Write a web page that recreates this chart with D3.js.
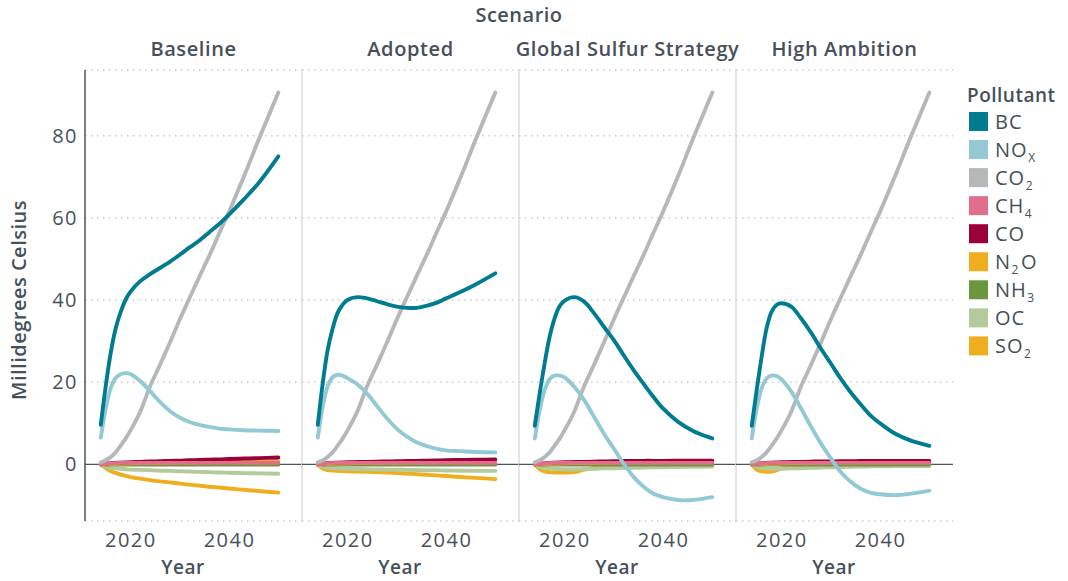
<!DOCTYPE html>
<html>
<head>
<meta charset="utf-8">
<script src="https://cdn.jsdelivr.net/npm/d3@7"></script>
<style>
  html, body { margin: 0; padding: 0; background: #ffffff; }
  svg { display: block; }
  text { font-family: "Open Sans", "Noto Sans", sans-serif; fill: #46505a; }
</style>
</head>
<body>
<svg id="chart" width="1068" height="581"></svg>
<script>
// ---------------- DATA ----------------
const years = [2014, 2015, 2016, 2017, 2018, 2019, 2020, 2022, 2024, 2026, 2028, 2030, 2032, 2034, 2036, 2038, 2040, 2043, 2046, 2050];
const scenarios = ["Baseline", "Adopted", "Global Sulfur Strategy", "High Ambition"];
const pollutants = ["BC", "NOx", "CO2", "CH4", "CO", "N2O", "NH3", "OC", "SO2"];
const pollutantLabels = ["BC", "NO_X", "CO_2", "CH_4", "CO", "N_2O", "NH_3", "OC", "SO_2"];
const pollutantColors = ["#007c91", "#93c9d4", "#b5b8bb", "#e0708a", "#9b0039", "#f0ae1e", "#6a963d", "#b3ca9c", "#f0ae1e"];
const yTicks = [0, 20, 40, 60, 80];
const xTicks = [2020, 2040];

// CO2 is identical in all scenarios
const CO2_all = [0.5, 1.0, 1.8, 2.9, 4.5, 6.2, 8.2, 12.8, 19.0, 24.2, 29.6, 35.2, 40.5, 45.7, 50.8, 56.2, 61.5, 70.0, 79.0, 90.5];
const N2O_all = [0, 0.05, 0.1, 0.15, 0.2, 0.2, 0.25, 0.3, 0.3, 0.35, 0.4, 0.4, 0.45, 0.5, 0.5, 0.55, 0.6, 0.65, 0.7, 0.75];
const NH3_all = [0, -0.03, -0.05, -0.05, -0.05, -0.05, -0.05, -0.05, -0.05, -0.05, -0.05, -0.05, -0.05, -0.05, -0.05, -0.05, -0.05, -0.05, -0.05, -0.05];
const CH4_all = [0, 0.15, 0.25, 0.3, 0.35, 0.35, 0.35, 0.35, 0.35, 0.35, 0.35, 0.35, 0.35, 0.35, 0.35, 0.35, 0.35, 0.35, 0.35, 0.35];

// Baseline
const BC_baseline  = [9.6, 19, 27, 33, 37, 40, 42, 44.6, 46.3, 47.8, 49.3, 51, 52.8, 54.5, 56.5, 58.5, 60.8, 64.5, 68.5, 75];
const NOx_baseline = [6.5, 13.5, 18.5, 21, 21.9, 22.2, 22, 20.3, 17.8, 15.2, 13, 11.4, 10.3, 9.6, 9.1, 8.7, 8.5, 8.3, 8.2, 8.1];
const CO_baseline  = [0, 0.2, 0.3, 0.35, 0.4, 0.45, 0.5, 0.6, 0.7, 0.75, 0.85, 0.9, 1.0, 1.05, 1.15, 1.2, 1.3, 1.4, 1.5, 1.65];
const OC_baseline  = [0, -0.6, -0.9, -1.0, -1.1, -1.2, -1.3, -1.35, -1.45, -1.55, -1.6, -1.7, -1.75, -1.85, -1.9, -2.0, -2.05, -2.15, -2.2, -2.3];
const SO2_baseline = [0, -0.9, -1.6, -2.1, -2.5, -2.8, -3.1, -3.5, -3.85, -4.15, -4.4, -4.7, -4.95, -5.2, -5.45, -5.65, -5.9, -6.2, -6.5, -6.9];

// Adopted
const BC_adopted  = [9.6, 19.7, 27.8, 33, 36.8, 38.8, 40, 40.7, 40.4, 39.7, 39, 38.4, 38.1, 38.1, 38.6, 39.3, 40.4, 42, 43.8, 46.5];
const NOx_adopted = [6.5, 14, 19, 21.2, 21.8, 21.6, 21, 19.5, 17.2, 14.2, 11.2, 8.7, 6.8, 5.4, 4.5, 3.8, 3.4, 3.2, 3.0, 2.9];
const CO_adopted  = [0, 0.2, 0.3, 0.35, 0.4, 0.45, 0.5, 0.55, 0.6, 0.65, 0.7, 0.75, 0.8, 0.85, 0.9, 0.95, 1.0, 1.05, 1.1, 1.2];
const OC_adopted  = [0, -0.55, -0.8, -0.9, -1.0, -1.05, -1.1, -1.15, -1.2, -1.25, -1.3, -1.3, -1.35, -1.4, -1.45, -1.45, -1.5, -1.55, -1.6, -1.6];
const SO2_adopted = [0, -1.0, -1.4, -1.5, -1.6, -1.65, -1.7, -1.75, -1.8, -1.9, -2.0, -2.1, -2.25, -2.4, -2.55, -2.7, -2.85, -3.1, -3.3, -3.6];

// Global Sulfur Strategy
const BC_gss  = [9.4, 17.3, 24.6, 31, 35.5, 38.4, 39.8, 40.7, 39.6, 36.8, 33.5, 30.3, 26.6, 23, 19.7, 16.5, 13.6, 10.4, 8.2, 6.3];
const NOx_gss = [6.3, 13.2, 18.1, 20.7, 21.6, 21.6, 21.2, 18.9, 15.7, 11.6, 7.5, 3.9, 0.2, -3.0, -5.4, -7.1, -8.0, -8.7, -8.7, -8.0];
const CO_gss  = [0, 0.2, 0.3, 0.35, 0.4, 0.45, 0.5, 0.55, 0.6, 0.65, 0.7, 0.75, 0.8, 0.8, 0.85, 0.85, 0.85, 0.9, 0.9, 0.9];
const OC_gss  = [0, -0.55, -0.8, -1.0, -1.1, -1.15, -1.2, -1.2, -1.15, -1.1, -1.0, -0.95, -0.9, -0.85, -0.8, -0.75, -0.7, -0.65, -0.6, -0.55];
const SO2_gss = [0, -1.2, -1.7, -1.9, -2.0, -2.0, -2.0, -1.9, -1.3, -0.9, -0.6, -0.4, -0.25, -0.1, 0, 0.1, 0.15, 0.2, 0.25, 0.3];

// High Ambition
const BC_high  = [9.4, 18.1, 26.2, 33.1, 37.1, 38.8, 39.2, 38.4, 35.5, 32.1, 28.2, 24.6, 20.9, 17.6, 14.7, 12.0, 10.0, 7.5, 5.9, 4.5];
const NOx_high = [6.3, 13.6, 18.5, 20.9, 21.6, 21.5, 20.7, 17.7, 13.6, 9.2, 5.1, 1.5, -1.8, -4.2, -5.9, -6.9, -7.3, -7.5, -7.2, -6.4];
const CO_high  = [0, 0.2, 0.3, 0.35, 0.4, 0.45, 0.5, 0.55, 0.6, 0.65, 0.7, 0.7, 0.75, 0.75, 0.8, 0.8, 0.8, 0.8, 0.8, 0.8];
const OC_high  = [0, -0.6, -0.9, -1.0, -1.1, -1.1, -1.1, -1.0, -0.95, -0.85, -0.8, -0.7, -0.65, -0.6, -0.55, -0.5, -0.5, -0.45, -0.4, -0.4];
const SO2_high = [0, -1.3, -1.7, -1.8, -1.8, -1.5, -1.0, -0.5, -0.3, -0.15, -0.05, 0, 0.05, 0.1, 0.15, 0.2, 0.2, 0.25, 0.25, 0.3];

// table built from the arrays: scenario -> pollutant -> values
const seriesTable = [
  [BC_baseline, NOx_baseline, CO2_all, CH4_all, CO_baseline, N2O_all, NH3_all, OC_baseline, SO2_baseline],
  [BC_adopted,  NOx_adopted,  CO2_all, CH4_all, CO_adopted,  N2O_all, NH3_all, OC_adopted,  SO2_adopted],
  [BC_gss,      NOx_gss,      CO2_all, CH4_all, CO_gss,      N2O_all, NH3_all, OC_gss,      SO2_gss],
  [BC_high,     NOx_high,     CO2_all, CH4_all, CO_high,     N2O_all, NH3_all, OC_high,     SO2_high]
];

// ---------------- LAYOUT ----------------
const svg = d3.select("#chart");
const panelLeft = 85, panelW = 217, panelTop = 70, panelBottom = 521;
const textColor = "#46505a";

const x = d3.scaleLinear().domain([2010.8, 2054.8]).range([0, panelW]);
const y = d3.scaleLinear().domain([-13.8, 96]).range([panelBottom, panelTop]);
const color = d3.scaleOrdinal().domain(pollutants).range(pollutantColors);

// Titles
svg.append("text")
  .attr("x", 519).attr("y", 22)
  .attr("text-anchor", "middle")
  .style("font-size", "20px").style("font-weight", 600).style("letter-spacing", "0.5px")
  .text("Scenario");

svg.append("text")
  .attr("transform", "translate(26,300) rotate(-90)")
  .attr("text-anchor", "middle")
  .style("font-size", "20px").style("font-weight", 600).style("letter-spacing", "0.5px")
  .text("Millidegrees Celsius");

// Y axis labels (shared, left)
const yAxis = d3.axisLeft(y).tickValues(yTicks).tickSize(0).tickPadding(7).tickFormat(d3.format("d"));
const yAxisG = svg.append("g").attr("transform", `translate(${panelLeft},0)`).call(yAxis);
yAxisG.select(".domain").remove();
yAxisG.selectAll("text").style("font-size", "20px").style("fill", textColor)
  .style("font-family", "'Open Sans', sans-serif").style("letter-spacing", "1.5px");

const line = d3.line()
  .x((d, i) => x(years[i]))
  .y(d => y(d))
  .curve(d3.curveCatmullRom.alpha(0.5));

// drawing order: last legend entry first, so BC ends on top
const drawOrder = d3.range(pollutants.length).reverse();

scenarios.forEach((sc, si) => {
  const g = svg.append("g").attr("transform", `translate(${panelLeft + si * panelW},0)`);

  // dotted gridlines, including panel top/bottom
  const gridVals = [y.domain()[0], ...yTicks.filter(v => v !== 0), y.domain()[1]];
  g.selectAll("line.grid").data(gridVals).join("line")
    .attr("class", "grid")
    .attr("x1", 0).attr("x2", panelW)
    .attr("y1", d => y(d)).attr("y2", d => y(d))
    .attr("stroke", "#c9cdd0").attr("stroke-width", 1.5)
    .attr("stroke-dasharray", "1.5,4.5");

  // panel divider
  if (si > 0) {
    g.append("line")
      .attr("x1", 0).attr("x2", 0)
      .attr("y1", panelTop).attr("y2", panelBottom)
      .attr("stroke", "#dadcde").attr("stroke-width", 1.5);
  }

  // strip label
  g.append("text")
    .attr("x", panelW / 2).attr("y", 56)
    .attr("text-anchor", "middle")
    .style("font-size", "20px").style("font-weight", 600).style("letter-spacing", "0.6px")
    .text(sc);

  // zero line
  g.append("line")
    .attr("x1", 0).attr("x2", panelW)
    .attr("y1", y(0)).attr("y2", y(0))
    .attr("stroke", "#4a5560").attr("stroke-width", 1.2);

  // series lines
  drawOrder.forEach(pi => {
    const p = pollutants[pi];
    g.append("path")
      .datum(seriesTable[si][pi])
      .attr("d", line)
      .attr("fill", "none")
      .attr("stroke", color(p))
      .attr("stroke-width", 3.9)
      .attr("stroke-linecap", "round")
      .attr("stroke-linejoin", "round");
  });

  // x axis
  const xAxis = d3.axisBottom(x).tickValues(xTicks).tickSize(0).tickPadding(0).tickFormat(d3.format("d"));
  const xg = g.append("g").attr("transform", `translate(0,${panelBottom + 11})`).call(xAxis);
  xg.select(".domain").remove();
  xg.selectAll("text").style("font-size", "20px").style("fill", textColor)
    .style("font-family", "'Open Sans', sans-serif").style("letter-spacing", "1.5px").attr("dy", "0.75em");

  g.append("text")
    .attr("x", 98).attr("y", 574)
    .attr("text-anchor", "middle")
    .style("font-size", "19px").style("font-weight", 600).style("letter-spacing", "0.5px")
    .text("Year");
});

// y axis line
svg.append("line")
  .attr("x1", panelLeft).attr("x2", panelLeft)
  .attr("y1", panelTop).attr("y2", panelBottom)
  .attr("stroke", "#4a5560").attr("stroke-width", 1.5);

// ---------------- LEGEND ----------------
const legend = svg.append("g").attr("transform", "translate(967,0)");
legend.append("text")
  .attr("x", 0).attr("y", 102)
  .style("font-size", "19px").style("font-weight", 600).style("letter-spacing", "0.5px")
  .text("Pollutant");

pollutants.forEach((p, i) => {
  const cy = 121.5 + i * 28.05;
  legend.append("rect")
    .attr("x", 2).attr("y", cy - 9.5)
    .attr("width", 19).attr("height", 19)
    .attr("fill", color(p));
  const t = legend.append("text")
    .attr("x", 28).attr("y", cy + 7)
    .style("font-size", "20px").style("letter-spacing", "1px");
  const label = pollutantLabels[i];
  const parts = label.split("_");
  t.append("tspan").text(parts[0]);
  for (let k = 1; k < parts.length; k++) {
    const sub = parts[k].charAt(0);
    const rest = parts[k].slice(1);
    t.append("tspan").attr("dy", 5).attr("dx", 0.5).style("font-size", "12px").text(sub);
    if (rest) t.append("tspan").attr("dy", -5).attr("dx", 1.5).text(rest);
  }
});
</script>
</body>
</html>
